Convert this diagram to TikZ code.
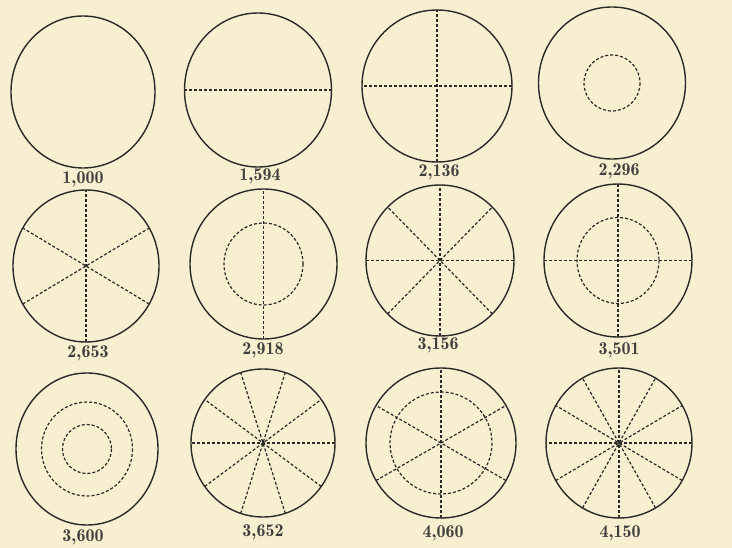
\documentclass[tikz,border=0pt]{standalone}
\usepackage{fontspec}
\newfontfamily\labfont{lmromandemi10-regular.otf}
\definecolor{paper}{HTML}{F8EED0}
\definecolor{ink}{HTML}{2A2A28}
\tikzset{
  rim/.style={draw=ink,line width=1.4pt},
  dotline/.style={draw=ink,line width=1.2pt,dash pattern=on 3pt off 2pt},
  lab/.style={text=ink!90,font=\labfont\fontsize{18}{18}\selectfont,inner sep=0pt},
}
\begin{document}
\begin{tikzpicture}[x=1pt,y=-1pt]
\fill[paper] (0,0) rectangle (732,548);
\useasboundingbox (0,0) rectangle (732,548);

% 1
\draw[rim] (83,92) ellipse [x radius=72, y radius=76];
\node[lab] (l1) at (83,179) {1,000};

% 2
\begin{scope}[shift={(258,90)}]
\draw[rim] (0,0) ellipse [x radius=73.5, y radius=77];
\draw[dotline] (0:73.5 and 77) -- (180:73.5 and 77);
\end{scope}
\node[lab] (l2) at (260,176) {1,594};

% 3
\begin{scope}[shift={(437,86)}]
\draw[rim] (0,0) ellipse [x radius=75, y radius=76];
\foreach \a in {0,90} \draw[dotline] (\a:75 and 76) -- (\a+180:75 and 76);
\end{scope}
\node[lab] (l3) at (439,172) {2,136};

% 4
\begin{scope}[shift={(612,83)}]
\draw[rim] (0,0) ellipse [x radius=73.5, y radius=76];
\draw[dotline] (0,0) circle [radius=28];
\end{scope}
\node[lab] (l4) at (619,171) {2,296};

% 5
\begin{scope}[shift={(86,266)}]
\draw[rim] (0,0) ellipse [x radius=73, y radius=76];
\foreach \a in {30,90,150} \draw[dotline] (\a:73 and 76) -- (\a+180:73 and 76);
\end{scope}
\node[lab] (l5) at (88,353) {2,653};

% 6
\begin{scope}[shift={(263.5,264)}]
\draw[rim] (0,0) ellipse [x radius=73.5, y radius=75];
\draw[dotline] (0,0) ellipse [x radius=39.5, y radius=41];
\draw[dotline] (90:73.5 and 75) -- (270:73.5 and 75);
\end{scope}
\node[lab] (l6) at (263,350) {2,918};

% 7
\begin{scope}[shift={(440,260.5)}]
\draw[rim] (0,0) ellipse [x radius=74, y radius=75.5];
\foreach \a in {0,45,90,135} \draw[dotline] (\a:74 and 75.5) -- (\a+180:74 and 75.5);
\end{scope}
\node[lab] (l7) at (438,345) {3,156};

% 8
\begin{scope}[shift={(618,260.5)}]
\draw[rim] (0,0) ellipse [x radius=74, y radius=76.5];
\draw[dotline] (0,0) ellipse [x radius=41, y radius=43];
\foreach \a in {0,90} \draw[dotline] (\a:74 and 76.5) -- (\a+180:74 and 76.5);
\end{scope}
\node[lab] (l8) at (619,350) {3,501};

% 9
\begin{scope}[shift={(87,449)}]
\draw[rim] (0,0) ellipse [x radius=71, y radius=76];
\draw[dotline] (0,0) ellipse [x radius=45.5, y radius=47];
\draw[dotline] (0,0) circle [radius=24.5];
\end{scope}
\node[lab] (l9) at (83,537) {3,600};

% 10
\begin{scope}[shift={(263,443)}]
\draw[rim] (0,0) ellipse [x radius=72, y radius=74];
\foreach \a in {0,36,72,108,144} \draw[dotline] (\a:72 and 74) -- (\a+180:72 and 74);
\end{scope}
\node[lab] (l10) at (263,532) {3,652};

% 11
\begin{scope}[shift={(441,443)}]
\draw[rim] (0,0) circle [radius=75];
\draw[dotline] (0,0) circle [radius=51];
\foreach \a in {30,90,150} \draw[dotline] (\a:75) -- (\a+180:75);
\end{scope}
\node[lab] (l11) at (443,533) {4,060};

% 12
\begin{scope}[shift={(619,443)}]
\draw[rim] (0,0) ellipse [x radius=73, y radius=75];
\foreach \a in {0,30,60,90,120,150} \draw[dotline] (\a:73 and 75) -- (\a+180:73 and 75);
\end{scope}
\node[lab] (l12) at (620,533) {4,150};
\end{tikzpicture}
\end{document}
